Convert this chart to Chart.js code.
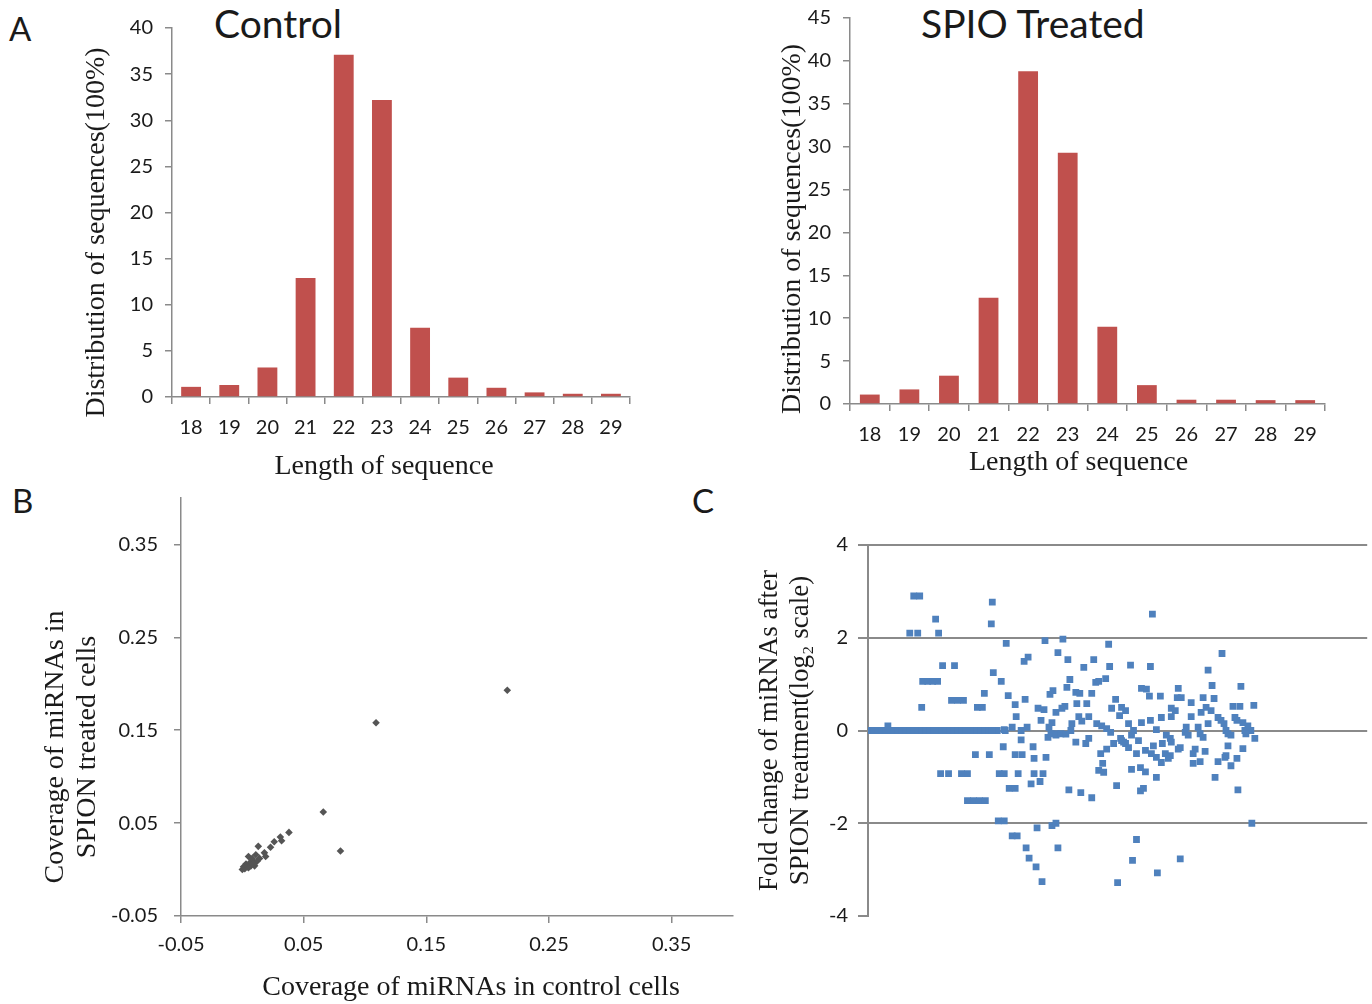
<!DOCTYPE html>
<html>
<head>
<meta charset="utf-8">
<script src="https://cdn.jsdelivr.net/npm/chart.js@4.4.0/dist/chart.umd.min.js"></script>
<style>
  body { margin: 0; background: #fff; width: 1372px; height: 1004px; position: relative; overflow: hidden; }
  canvas { position: absolute; }
  .lbl { position: absolute; font-family: Lato, "Open Sans", sans-serif; color: #1a1a1a; line-height: 1; white-space: nowrap; }
</style>
</head>
<body>
<div class="lbl" style="left:9px;top:12px;font-size:33px;">A</div>
<div class="lbl" style="left:214px;top:4px;font-size:39px;">Control</div>
<div class="lbl" style="left:921px;top:4px;font-size:39px;">SPIO Treated</div>
<div class="lbl" style="left:12px;top:484px;font-size:33px;">B</div>
<div class="lbl" style="left:692px;top:484px;font-size:33px;">C</div>

<canvas id="controlChart" width="590" height="490" style="left:60px;top:0px;"></canvas>
<canvas id="spioChart" width="610" height="496" style="left:740px;top:-6px;"></canvas>
<canvas id="coverageChart" width="740" height="534" style="left:20px;top:470px;"></canvas>
<canvas id="foldChart" width="632" height="418" style="left:740px;top:520px;"></canvas>

<script>
// ---------------- data ----------------
const seqLengths = ["18", "19", "20", "21", "22", "23", "24", "25", "26", "27", "28", "29"];
const controlDist = [1.1, 1.3, 3.2, 12.9, 37.1, 32.2, 7.5, 2.1, 1.0, 0.5, 0.35, 0.35];
const spioDist = [1.1, 1.7, 3.3, 12.4, 38.8, 29.3, 9.0, 2.2, 0.5, 0.5, 0.45, 0.45];

// panel B: coverage in control cells (x) vs SPION treated cells (y)
const coveragePoints = [
    [0.216, 0.193], [0.109, 0.158], [0.066, 0.062], [0.080, 0.020],
    [0.038, 0.040], [0.031, 0.035], [0.032, 0.031], [0.026, 0.030],
    [0.023, 0.024], [0.013, 0.025], [0.018, 0.018], [0.019, 0.014],
    [0.011, 0.016], [0.005, 0.014], [0.008, 0.010], [0.010, 0.004],
    [0.003, 0.006], [0.001, 0.003], [0.000, 0.000], [0.006, 0.007],
    [0.008, 0.012], [0.004, 0.003], [0.002, 0.001], [0.012, 0.009],
    [0.009, 0.006], [0.007, 0.004], [0.005, 0.002], [0.014, 0.012]
];
const coverageTicks = [-0.05, 0.05, 0.15, 0.25, 0.35];

// panel C: [miRNA index, log2 fold change]
const foldPoints = [
    // flat run at zero
    [2, 0], [6, 0], [10, 0], [14, 0], [18, 0], [20, 0.1], [22, 0], [26, 0], [30, 0],
    [34, 0], [38, 0], [42, 0], [46, 0], [50, 0], [54, 0], [58, 0], [62, 0], [66, 0],
    [70, 0], [74, 0], [78, 0], [82, 0], [86, 0], [90, 0], [94, 0], [98, 0], [102, 0],
    [106, 0], [110, 0], [114, 0], [118, 0], [122, 0], [126, 0], [130, 0],
    // left part
    [46, 2.9], [52, 2.9], [68, 2.4], [42, 2.1], [50, 2.1], [71, 2.1], [125, 2.77], [124, 2.3],
    [75, 1.4], [87, 1.4], [55, 1.06], [60, 1.06], [65, 1.06], [70, 1.06], [54, 0.5],
    [84, 0.65], [90, 0.65], [96, 0.65], [110, 0.5], [115, 0.5], [117, 0.8], [126, 1.25],
    [108, -0.52], [122, -0.52], [73, -0.93], [81, -0.93], [94, -0.93], [100, -0.93],
    [100, -1.51], [106, -1.51], [112, -1.51], [118, -1.51], [132, -0.93], [137, -0.93],
    [131, -1.95], [137, -1.95],
    // middle part
    [139, 1.88], [178, 1.94], [191, 1.68], [157, 1.49], [161, 1.58], [134, 1.06], [141, 0.75],
    [158, 0.67], [148, 0.56], [171, 0.48], [177, 0.45], [183, 0.78], [186, 0.86], [149, 0.3],
    [174, 0.22], [189, 0.39], [145, 0.07], [138, 0], [160, 0.07], [154, 0], [182, 0.07],
    [185, 0.17], [189, -0.07], [125, 0], [137, 0.02], [136, -0.35], [154, -0.2], [148, -0.52],
    [155, -0.52], [166, -0.35], [167, -0.6], [179, -0.58], [181, -0.15], [151, -0.93],
    [167, -0.93], [176, -0.93], [164, -1.15], [173, -1.1], [142, -1.25], [148, -1.25],
    [170, -2.1], [185, -2.05], [189, -2.0], [145, -2.27], [150, -2.27], [159, -2.53],
    [162, -2.75], [169, -2.94], [175, -3.26], [191, -2.53],
    [196, 1.97], [201, 1.53], [227, 1.53], [242, 1.86], [243, 1.38], [217, 1.36], [203, 1.1],
    [200, 0.93], [229, 1.04], [232, 1.06], [239, 1.12], [209, 0.82], [213, 0.8], [225, 0.8],
    [220, 0.58], [210, 0.58], [198, 0.52], [195, 0.48], [249, 0.67], [245, 0.48], [255, 0.5],
    [253, 0.32], [222, 0.3], [212, 0.3], [205, 0.15], [215, 0.2], [230, 0.15], [235, 0.1],
    [240, 0.04], [244, -0.04], [184, -0.07], [189, -0.1], [194, -0.07], [199, -0.08],
    [204, 0], [209, -0.25], [219, -0.28], [222, -0.17], [234, -0.5], [236, -0.71],
    [232, -0.86], [237, -0.9], [240, -0.4], [247, -0.28], [254, -0.17], [257, -0.25],
    [250, -1.19], [202, -1.28], [214, -1.34], [225, -1.45], [251, -3.28],
    // right part
    [286, 2.51], [356, 1.66], [264, 1.41], [284, 1.38], [342, 1.3], [346, 0.97], [375, 0.95],
    [275, 0.91], [280, 0.89], [312, 0.91], [283, 0.74], [294, 0.74], [311, 0.71], [315, 0.71],
    [325, 0.6], [337, 0.71], [348, 0.69], [367, 0.52], [374, 0.52], [388, 0.54], [305, 0.48],
    [309, 0.43], [340, 0.5], [345, 0.43], [335, 0.39], [259, 0.43], [305, 0.3], [325, 0.3],
    [295, 0.28], [352, 0.28], [355, 0.22], [358, 0.15], [369, 0.28], [371, 0.22], [377, 0.17],
    [382, 0.1], [385, 0], [262, 0.15], [275, 0.17], [284, 0.22], [342, 0.15], [320, 0.07],
    [319, -0.04], [322, -0.1], [332, 0.07], [334, -0.07], [337, -0.15], [290, 0.02],
    [267, 0], [265, -0.1], [360, 0], [362, -0.07], [365, -0.1], [389, -0.17], [379, 0],
    [380, -0.07], [255, -0.22], [259, -0.28], [262, -0.37], [272, -0.22], [300, -0.1],
    [304, -0.17], [305, -0.25], [312, -0.4], [314, -0.37], [287, -0.33], [296, -0.28],
    [279, -0.43], [270, -0.5], [285, -0.5], [290, -0.58], [295, -0.69], [299, -0.5],
    [302, -0.6], [304, -0.54], [329, -0.4], [327, -0.5], [339, -0.45], [327, -0.71],
    [334, -0.67], [362, -0.33], [360, -0.54], [359, -0.58], [377, -0.39], [352, -0.67],
    [365, -0.76], [371, -0.6], [265, -0.84], [274, -0.8], [279, -0.89], [290, -1.01],
    [349, -1.01], [274, -1.3], [277, -1.25], [372, -1.28], [386, -2.0], [270, -2.35],
    [266, -2.8], [314, -2.77], [291, -3.07]
];
const foldTicks = [-4, -2, 0, 2, 4];

// ---------------- common styles ----------------
const AXIS = "#8a8a8a";
const TEXT = "#1a1a1a";
const SERIF = "'Liberation Serif', 'Times New Roman', serif";
const BAR_RED = "#c0504d";
const SQ_BLUE = "#4f81bd";

Chart.defaults.font.family = "Lato, 'Open Sans', sans-serif";
Chart.defaults.color = TEXT;
Chart.defaults.animation = false;

// nudges the axis titles off the axis centre, as in the figure
const titleShift = {
    id: "titleShift",
    afterLayout(chart, args, opts) {
        ["x", "y"].forEach(id => {
            const s = chart.scales[id];
            const d = opts[id];
            if (!s || s._shiftWrapped || !d) return;
            const orig = s.drawTitle.bind(s);
            s.drawTitle = function () {
                this.ctx.save();
                this.ctx.translate(d[0], d[1]);
                orig();
                this.ctx.restore();
            };
            s._shiftWrapped = true;
        });
    }
};
Chart.register(titleShift);

const baseLegend = { legend: { display: false }, tooltip: { enabled: false } };

function barChart(id, values, yMax, opts) {
    const el = document.getElementById(id);
    return new Chart(el, {
        type: "bar",
        data: {
            labels: seqLengths,
            datasets: [{
                data: values,
                backgroundColor: BAR_RED,
                categoryPercentage: 1,
                barPercentage: opts.barPct
            }]
        },
        options: {
            responsive: false,
            plugins: { ...baseLegend, titleShift: { x: opts.xShift, y: opts.yShift } },
            layout: { padding: { top: opts.top, right: opts.right, left: 0, bottom: 0 } },
            scales: {
                x: {
                    grid: { drawOnChartArea: false, offset: true, tickLength: 7, color: AXIS, lineWidth: 1.5 },
                    border: { color: AXIS, width: 1.5 },
                    ticks: { font: { size: 20 }, padding: 12, color: TEXT },
                    title: {
                        display: true, text: "Length of sequence", color: TEXT,
                        font: { family: SERIF, size: 28, lineHeight: 1.2 },
                        padding: { top: 0, bottom: opts.xTitlePad }
                    },
                    afterFit: s => { s.height = opts.xHeight; }
                },
                y: {
                    min: 0, max: yMax,
                    grid: { drawOnChartArea: false, tickLength: 7, color: AXIS, lineWidth: 1.5 },
                    border: { color: AXIS, width: 1.5 },
                    ticks: { stepSize: 5, font: { size: 20 }, padding: 12, color: TEXT },
                    title: {
                        display: true, text: "Distribution of sequences(100%)", color: TEXT,
                        font: { family: SERIF, size: 28, lineHeight: 1.2 },
                        padding: { top: opts.yTitlePad, bottom: 0 }
                    },
                    afterFit: s => { s.width = opts.yWidth; }
                }
            }
        }
    });
}

barChart("controlChart", controlDist, 40, {
    barPct: 0.52, top: 28, right: 20, xTitlePad: 7, xHeight: 93, yTitlePad: 20, yWidth: 112,
    xShift: [-17, 0], yShift: [0, 20]
});
barChart("spioChart", spioDist, 45, {
    barPct: 0.5, top: 22, right: 25, xTitlePad: 11, xHeight: 86, yTitlePad: 36, yWidth: 110,
    xShift: [-9, 0], yShift: [0, 18]
});

// panel B
new Chart(document.getElementById("coverageChart"), {
    type: "scatter",
    data: {
        datasets: [{
            data: coveragePoints.map(p => ({ x: p[0], y: p[1] })),
            pointStyle: "rectRot",
            pointRadius: 3.8,
            backgroundColor: "#555",
            borderColor: "#555",
            borderWidth: 0
        }]
    },
    options: {
        responsive: false,
        plugins: { ...baseLegend, titleShift: { x: [14, 0], y: [0, 40] } },
        layout: { padding: { top: 22, right: 27, left: 0, bottom: 0 } },
        scales: {
            x: {
                type: "linear", min: -0.05, max: 0.40,
                afterBuildTicks: s => { s.ticks = coverageTicks.map(v => ({ value: v })); },
                grid: { drawOnChartArea: false, tickLength: 7, color: AXIS, lineWidth: 1.5 },
                border: { color: AXIS, width: 1.5 },
                ticks: { font: { size: 20 }, padding: 10, color: TEXT, callback: v => v.toFixed(2) },
                title: {
                    display: true, text: "Coverage of miRNAs in control cells", color: TEXT,
                    font: { family: SERIF, size: 28, lineHeight: 1.2 },
                    padding: { top: 0, bottom: 0 }
                },
                afterFit: s => { s.height = 88; }
            },
            y: {
                type: "linear", min: -0.05, max: 0.40,
                afterBuildTicks: s => { s.ticks = coverageTicks.map(v => ({ value: v })); },
                grid: { drawOnChartArea: false, tickLength: 7, color: AXIS, lineWidth: 1.5 },
                border: { color: AXIS, width: 1.5 },
                ticks: { font: { size: 20 }, padding: 16, color: TEXT, callback: v => v.toFixed(2) },
                title: {
                    display: true, text: ["Coverage of miRNAs in", "SPION treated cells"], color: TEXT,
                    font: { family: SERIF, size: 28, lineHeight: 1.17 },
                    padding: { top: 19, bottom: 0 }
                },
                afterFit: s => { s.width = 161; }
            }
        }
    }
});

// panel C
new Chart(document.getElementById("foldChart"), {
    type: "scatter",
    data: {
        datasets: [{
            data: foldPoints.map(p => ({ x: p[0], y: p[1] })),
            pointStyle: "rect",
            pointRadius: 4.8,
            backgroundColor: SQ_BLUE,
            borderColor: SQ_BLUE,
            borderWidth: 0
        }]
    },
    options: {
        responsive: false,
        plugins: baseLegend,
        layout: { padding: { top: 25, right: 2, left: 0, bottom: 10 } },
        scales: {
            x: { type: "linear", min: 0, max: 502, display: false },
            y: {
                min: -4, max: 4,
                afterBuildTicks: s => { s.ticks = foldTicks.map(v => ({ value: v })); },
                grid: {
                    color: c => (c.tick && c.tick.value === -4 ? "rgba(0,0,0,0)" : AXIS),
                    tickColor: AXIS,
                    lineWidth: 2,
                    tickLength: 10
                },
                border: { color: AXIS, width: 2 },
                ticks: { font: { size: 20 }, padding: 10, color: TEXT },
                title: {
                    display: true, text: ["Fold change of miRNAs after", "SPION treatment(log\u2082 scale)"], color: TEXT,
                    font: { family: SERIF, size: 27, lineHeight: 1.15 },
                    padding: { top: 14, bottom: 0 }
                },
                afterFit: s => { s.width = 128; }
            }
        }
    }
});
</script>
</body>
</html>
